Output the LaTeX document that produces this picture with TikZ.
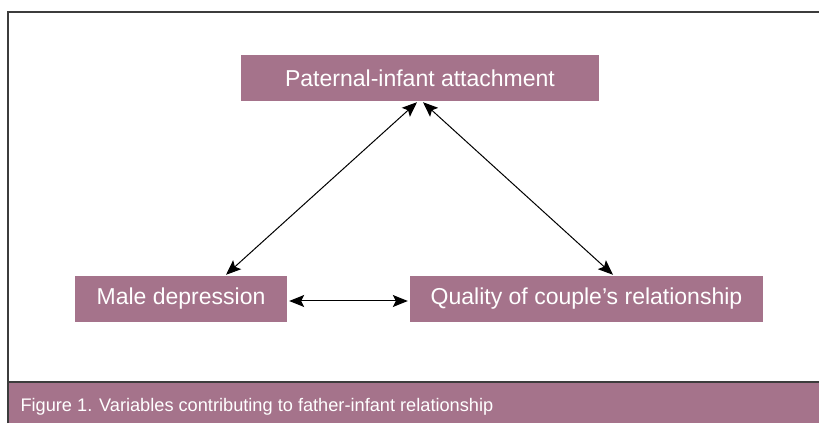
\documentclass[tikz,border=0pt]{standalone}
\usepackage{fontspec}
\setmainfont{Liberation Sans}
\usetikzlibrary{arrows.meta, positioning}
\definecolor{mauve}{RGB}{165,115,139}
\definecolor{framegray}{RGB}{60,60,60}
\tikzset{>={Stealth[length=15pt, width=12pt, inset=3pt]}}

\begin{document}
\begin{tikzpicture}[x=1pt, y=1pt,
  varbox/.style={fill=mauve, text=white, minimum height=46pt, inner sep=0pt,
    font=\fontsize{23}{27}\selectfont},
  link/.style={<->, line width=1pt}]
  \useasboundingbox (0,0) rectangle (819,423);
  % Frame and caption bar
  \fill[mauve] (8,0) rectangle (819,41);
  \draw[framegray, line width=1.5pt] (8,0) -- (8,411) -- (819,411);
  \draw[framegray, line width=1.2pt] (8,41) -- (819,41);
  \node[anchor=west, text=white, font=\fontsize{18.2}{21}\selectfont] (cap) at (17,16)
    {Figure 1. Variables contributing to father-infant relationship};
  % Variables
  \node[varbox, minimum width=358pt] (pa) at (420,345) {Paternal-infant attachment};
  \node[varbox, minimum width=212pt] (md) at (181,124) {Male depression};
  \node[varbox, minimum width=353pt] (qr) at (586.5,124) {Quality of couple’s relationship};
  % Links
  \draw[link] ([xshift=-3pt, yshift=-1pt]pa.south) -- ([xshift=45pt, yshift=1pt]md.north);
  \draw[link] ([xshift=3pt, yshift=-1pt]pa.south) -- ([xshift=26.5pt, yshift=1pt]qr.north);
  \draw[link] ([xshift=2pt, yshift=-2pt]md.east) -- ([xshift=-2pt, yshift=-2pt]qr.west);
\end{tikzpicture}
\end{document}
